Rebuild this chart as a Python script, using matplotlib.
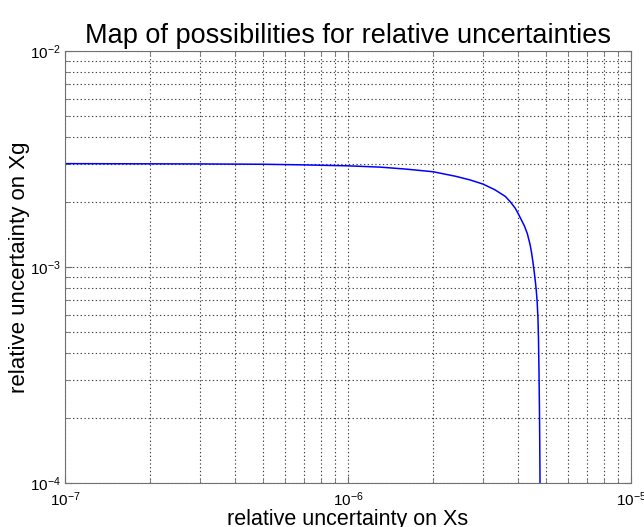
import matplotlib
matplotlib.use("Agg")
import matplotlib.pyplot as plt
from matplotlib.ticker import LogLocator, NullFormatter

plt.rcParams['font.family'] = ['Liberation Sans', 'DejaVu Sans']
plt.rcParams['mathtext.fontset'] = 'custom'
plt.rcParams['mathtext.rm'] = 'Liberation Sans'
plt.rcParams['mathtext.it'] = 'Liberation Sans:italic'

# points (x = rel. uncertainty on Xs, y = on Xg)
x_s = [1e-7, 3e-7, 5e-7, 7e-7, 1e-6, 1.3e-6, 1.6e-6, 2e-6, 2.4e-6, 2.7e-6,
       3e-6, 3.3e-6, 3.6e-6, 3.75e-6, 3.9e-6, 4e-6, 4.1e-6, 4.2e-6, 4.3e-6,
       4.4e-6, 4.45e-6, 4.5e-6, 4.55e-6, 4.6e-6, 4.63e-6, 4.66e-6, 4.69e-6,
       4.71e-6, 4.73e-6, 4.75e-6, 4.76e-6, 4.77e-6]
x_g = [3.01e-3, 3.0e-3, 2.99e-3, 2.97e-3, 2.94e-3, 2.90e-3, 2.84e-3, 2.76e-3, 2.63e-3, 2.53e-3,
       2.42e-3, 2.28e-3, 2.12e-3, 2.0e-3, 1.87e-3, 1.76e-3, 1.65e-3, 1.55e-3, 1.43e-3,
       1.27e-3, 1.17e-3, 1.06e-3, 0.95e-3, 0.84e-3, 0.77e-3, 0.69e-3, 0.58e-3,
       0.47e-3, 0.33e-3, 0.21e-3, 0.15e-3, 1e-4]

xlim = (1e-7, 1e-5)
ylim = (1e-4, 1e-2)

fig = plt.figure(figsize=(6.44, 5.27), dpi=100)
ax = fig.add_axes([65/644, 1 - 483/527, 566/644, 432/527])

ax.plot(x_s, x_g, color='#0000ff', linewidth=1.1)

ax.set_xscale('log')
ax.set_yscale('log')
ax.set_xlim(*xlim)
ax.set_ylim(*ylim)

for axis in (ax.xaxis, ax.yaxis):
    axis.set_major_locator(LogLocator(base=10))
    axis.set_minor_locator(LogLocator(base=10, subs=range(2, 10)))
    axis.set_minor_formatter(NullFormatter())

ax.grid(True, which='both', linestyle=(0, (1.2, 2.2)), color='#404040', linewidth=0.8)
ax.tick_params(which='both', direction='in', top=True, right=True, colors='#707070',
               labelcolor='black', labelsize=11)
ax.tick_params(which='major', length=5)
ax.tick_params(which='minor', length=3)
ax.tick_params(axis='x', pad=5)
ax.tick_params(axis='y', pad=3)
for sp in ax.spines.values():
    sp.set_color('#707070')

ax.set_title('Map of possibilities for relative uncertainties', fontsize=19.5, pad=6)
ax.set_xlabel('relative uncertainty on Xs', fontsize=15.5, labelpad=0.5)
ax.set_ylabel('relative uncertainty on Xg', fontsize=16, labelpad=0)

fig.savefig('out.png', dpi=100)
